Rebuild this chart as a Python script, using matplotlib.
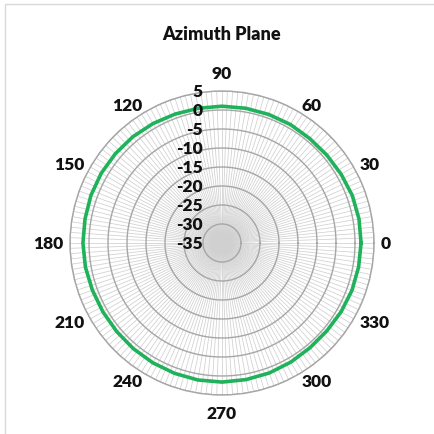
import numpy as np
import matplotlib
matplotlib.use("Agg")
import matplotlib.pyplot as plt
from matplotlib.patches import Rectangle

# Data: azimuth angle (deg) and gain (dB)
angles_deg = [0, 10, 20, 30, 40, 50, 60, 70, 80, 90, 100, 110, 120, 130, 140, 150, 160, 170,
              180, 190, 200, 210, 220, 230, 240, 250, 260, 270, 280, 290, 300, 310, 320, 330, 340, 350, 360]
gain_db = [1.6, 1.6, 1.5, 1.2, 1.0, 0.9, 1.0, 1.0, 1.0, 1.0, 1.0, 1.1, 1.3, 1.5, 1.6, 1.7, 1.7, 1.6,
           1.6, 1.5, 1.3, 1.2, 1.2, 1.3, 1.4, 1.5, 1.6, 1.6, 1.5, 1.4, 1.2, 1.0, 1.0, 1.2, 1.4, 1.5, 1.6]
angle_ticks = [0, 30, 60, 90, 120, 150, 180, 210, 240, 270, 300, 330]
radial_ticks = [-35, -30, -25, -20, -15, -10, -5, 0, 5]
title = "Azimuth Plane"

W, H = 434, 435
fig = plt.figure(figsize=(W / 100, H / 100), dpi=100)
fig.patch.set_facecolor("white")

# Chart-area border (top/left visible)
fig.patches.append(Rectangle((5 / W, -0.1), 1.2, (H - 5) / H + 0.1, transform=fig.transFigure,
                             fill=False, edgecolor="#d9d9d9", linewidth=1.0))

cx, cy, R = 222, 244, 152
ax = fig.add_axes([(cx - R) / W, (H - cy - R) / H, 2 * R / W, 2 * R / H], projection="polar")
ax.set_ylim(-35, 5)
ax.set_thetalim(0, 2 * np.pi)

# Dense spokes every 2 degrees
for a in np.arange(0, 360, 2):
    ax.plot([np.deg2rad(a)] * 2, [-35, 5], color="#d0d0d0", linewidth=0.55, zorder=1)

# Rings
ring_th = np.linspace(0, 2 * np.pi, 721)
for r in radial_ticks:
    ax.plot(ring_th, [r] * len(ring_th), color="#a6a6a6", linewidth=1.0, zorder=2)

ax.grid(False)
ax.set_xticks([])
ax.set_yticks([])
ax.spines["polar"].set_color("#a6a6a6")
ax.spines["polar"].set_linewidth(1.0)

# Green pattern
th = np.deg2rad(angles_deg)
ax.plot(th, gain_db, color="#1fb25a", linewidth=2.6, zorder=5, solid_joinstyle="round")

fp = dict(family="Lato", fontweight="heavy", fontsize=12.5, color="#111111")

# Angle labels, placed just outside the outer ring
for a in angle_ticks:
    t = np.deg2rad(a)
    c, s = np.cos(t), np.sin(t)
    if abs(c) < 0.01:
        gap = 10
        ha, va = "center", ("bottom" if s > 0 else "top")
    else:
        gap = 7
        ha, va = ("left" if c > 0 else "right"), "center"
    x = cx + (R + gap) * c
    y = cy - (R + gap) * s
    fig.text(x / W, (H - y) / H, str(a), ha=ha, va=va, **fp)

# Radial labels along 90 deg axis
for r in radial_ticks:
    y = cy - (r + 35) / 40 * R
    fig.text((cx - 19) / W, (H - y) / H, str(r), ha="right", va="center", **fp)

fig.text(cx / W, (H - 35) / H, title, ha="center", va="center",
         family="Lato", fontweight="heavy", fontsize=13, color="#111111")

fig.savefig("out.png", dpi=100, facecolor="white")
